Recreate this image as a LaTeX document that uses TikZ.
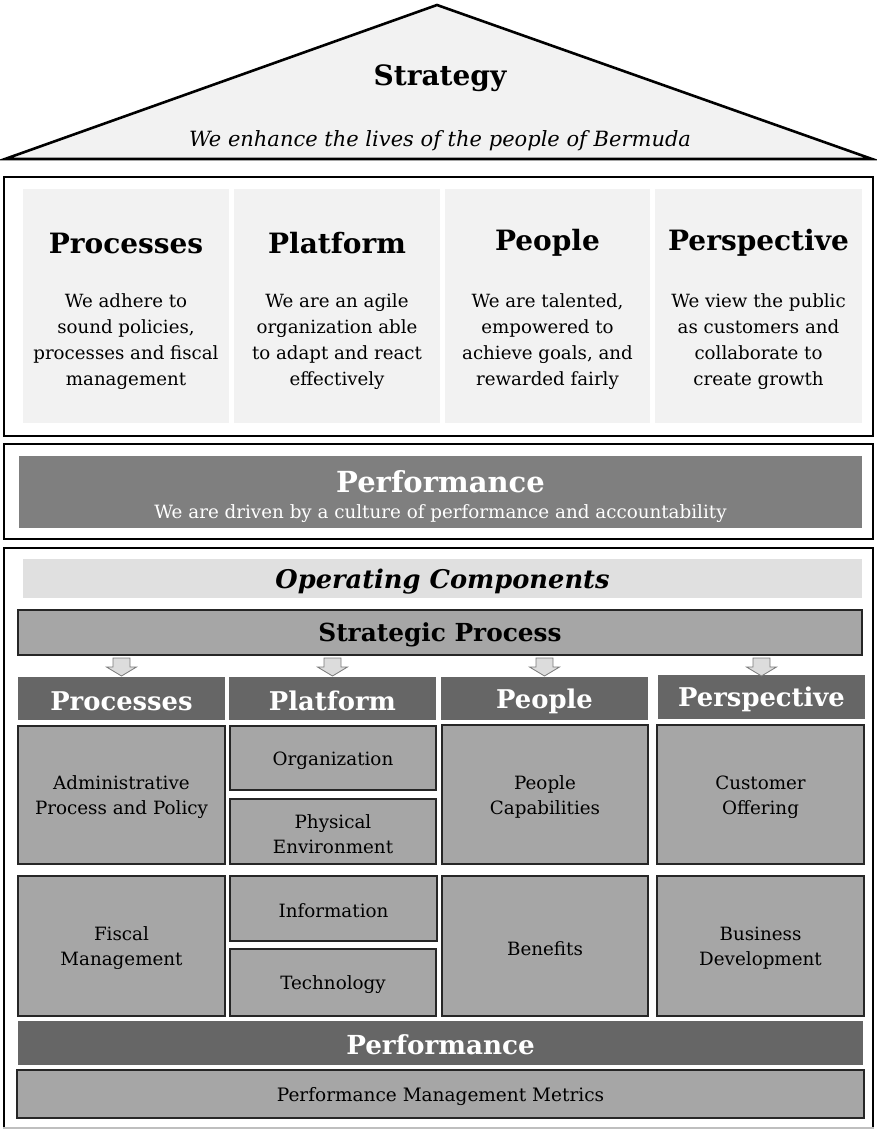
\documentclass[tikz,border=0pt]{standalone}
\usepackage{fontspec}
\setmainfont{DejaVu Serif}
\usetikzlibrary{calc}
\definecolor{palegray}{HTML}{F2F2F2}
\definecolor{bandgray}{HTML}{E0E0E0}
\definecolor{midgray}{HTML}{A6A6A6}
\definecolor{perfgray}{HTML}{7F7F7F}
\definecolor{darkgray}{HTML}{666666}
\definecolor{edgegray}{HTML}{262626}
\definecolor{arrowfill}{HTML}{DCDCDC}
\definecolor{arrowedge}{HTML}{7A7A7A}
\begin{document}
\begin{tikzpicture}[x=1pt,y=-1pt,
  frame/.style={draw=black, line width=2.6pt},
  plain/.style={inner sep=0pt, outer sep=0pt, anchor=north west},
  pillarbox/.style={plain, fill=palegray},
  pillartitle/.style={font=\fontsize{28}{32}\selectfont\bfseries},
  pillartext/.style={align=center, font=\fontsize{18.2}{26}\selectfont},
  cellbox/.style={plain, fill=midgray, draw=edgegray, line width=1.4pt},
  celltext/.style={align=center, inner sep=0pt, font=\fontsize{18.3}{25}\selectfont},
  headbox/.style={plain, fill=darkgray},
  headtext/.style={inner sep=0pt, text=white, font=\fontsize{25.8}{30}\selectfont\bfseries},
  blockarrow/.style={fill=arrowfill, draw=arrowedge, line width=0.8pt}
]
\useasboundingbox (0,0) rectangle (876,1131);

% roof
\coordinate (apex) at (437,5);
\coordinate (eaveL) at (5,159);
\coordinate (eaveR) at (872,159);
\draw[fill=palegray, line width=2.6pt, line join=miter] (eaveL) -- (apex) -- (eaveR) -- cycle;
\node[font=\fontsize{28}{32}\selectfont\bfseries] (strategy) at (440,78.5) {Strategy};
\node[font=\fontsize{21}{25}\selectfont\itshape] (mission) at (440,140.5)
  {We enhance the lives of the people of Bermuda};

% pillars
\draw[frame] (4,177) rectangle (873,436);
\node[pillarbox, minimum width=206pt, minimum height=234pt] (p1) at (23,189) {};
\node[pillarbox, minimum width=206pt, minimum height=234pt] (p2) at (234,189) {};
\node[pillarbox, minimum width=205pt, minimum height=234pt] (p3) at (445,189) {};
\node[pillarbox, minimum width=207pt, minimum height=234pt] (p4) at (655,189) {};
\foreach \p/\t in {p1/Processes, p2/Platform, p3/People, p4/Perspective}
  \node[pillartitle] (\p t) at ($(\p.north)+(0,54)$) {\t};
\node[pillartext] (p1x) at ($(p1.north)+(0,152.5)$)
  {We adhere to\\sound policies,\\processes and fiscal\\management};
\node[pillartext] (p2x) at ($(p2.north)+(0,152.5)$)
  {We are an agile\\organization able\\to adapt and react\\effectively};
\node[pillartext] (p3x) at ($(p3.north)+(0,152.5)$)
  {We are talented,\\empowered to\\achieve goals, and\\rewarded fairly};
\node[pillartext] (p4x) at ($(p4.north)+(0,152.5)$)
  {We view the public\\as customers and\\collaborate to\\create growth};

% performance culture
\draw[frame] (4,444) rectangle (873,539);
\node[plain, fill=perfgray, minimum width=843pt, minimum height=72pt] (perf) at (19,456) {};
\node[text=white, font=\fontsize{29}{32}\selectfont\bfseries] (perft) at ($(perf.north)+(0,26)$) {Performance};
\node[text=white, font=\fontsize{18.3}{22}\selectfont] (perfx) at ($(perf.north)+(0,57.5)$)
  {We are driven by a culture of performance and accountability};

% operating components
\draw[line width=2.2pt, draw=black] (4,1128) -- (4,548) -- (873,548) -- (873,1128);
\draw[line width=1.5pt, draw=lightgray] (3,1128) -- (874,1128);
\node[plain, fill=bandgray, minimum width=839pt, minimum height=39pt] (opc) at (23,559) {};
\node[inner sep=0pt, font=\fontsize{25.7}{30}\selectfont\bfseries\itshape] (opct)
  at ($(opc.center)+(0,3)$) {Operating Components};
\node[cellbox, minimum width=844pt, minimum height=45pt] (sp) at (18,610) {};
\node[inner sep=0pt, font=\fontsize{24.8}{28}\selectfont\bfseries] (spt)
  at ($(sp.center)+(0,2.5)$) {Strategic Process};

% column headers
\node[headbox, minimum width=207pt, minimum height=43pt] (h1) at (18,677) {};
\node[headbox, minimum width=207pt, minimum height=43pt] (h2) at (229,677) {};
\node[headbox, minimum width=207pt, minimum height=43pt] (h3) at (441,677) {};
\node[headbox, minimum width=207pt, minimum height=44pt] (h4) at (658,675) {};
\foreach \h/\t in {h1/Processes, h2/Platform, h3/People, h4/Perspective}
  \node[headtext] (\h t) at ($(\h.center)+(0,2.5)$) {\t};

% block arrows from the strategic process down to each column
\foreach \h in {h1,h2,h3,h4}{
  \path let \p1=(\h.north) in coordinate (t) at (\x1,658);
  \draw[blockarrow] ($(t)+(-8.5,0)$) -- ($(t)+(8.5,0)$) -- ($(t)+(8.5,9)$)
     -- ($(t)+(15,9)$) -- ($(t)+(0,18)$) -- ($(t)+(-15,9)$) -- ($(t)+(-8.5,9)$) -- cycle;
}

% cells
\node[cellbox, minimum width=207pt, minimum height=138pt] (admin) at (18,726) {};
\node[cellbox, minimum width=207pt, minimum height=140pt] (fiscal) at (18,876) {};
\node[cellbox, minimum width=206pt, minimum height=64pt] (org) at (230,726) {};
\node[cellbox, minimum width=206pt, minimum height=65pt] (phys) at (230,799) {};
\node[cellbox, minimum width=207pt, minimum height=65pt] (info) at (230,876) {};
\node[cellbox, minimum width=206pt, minimum height=67pt] (tech) at (230,949) {};
\node[cellbox, minimum width=206pt, minimum height=139pt] (pcap) at (442,725) {};
\node[cellbox, minimum width=206pt, minimum height=140pt] (ben) at (442,876) {};
\node[cellbox, minimum width=207pt, minimum height=139pt] (cust) at (657,725) {};
\node[cellbox, minimum width=207pt, minimum height=140pt] (bdev) at (657,876) {};
\foreach \c/\t in {admin/{Administrative\\Process and Policy}, fiscal/{Fiscal\\Management},
    org/Organization, phys/{Physical\\Environment}, info/Information, tech/Technology,
    pcap/{People\\Capabilities}, ben/Benefits, cust/{Customer\\Offering},
    bdev/{Business\\Development}}
  \node[celltext] (\c t) at ($(\c.center)+(0,2.5)$) {\t};

% performance footer
\node[headbox, minimum width=845pt, minimum height=44pt] (pbar) at (18,1021) {};
\node[headtext, font=\fontsize{26.2}{30}\selectfont\bfseries] (pbart)
  at ($(pbar.center)+(0,2)$) {Performance};
\node[cellbox, minimum width=847pt, minimum height=48pt] (pmm) at (17,1070) {};
\node[celltext, font=\fontsize{18.5}{22}\selectfont] (pmmt)
  at ($(pmm.center)+(0,3)$) {Performance Management Metrics};
\end{tikzpicture}
\end{document}
